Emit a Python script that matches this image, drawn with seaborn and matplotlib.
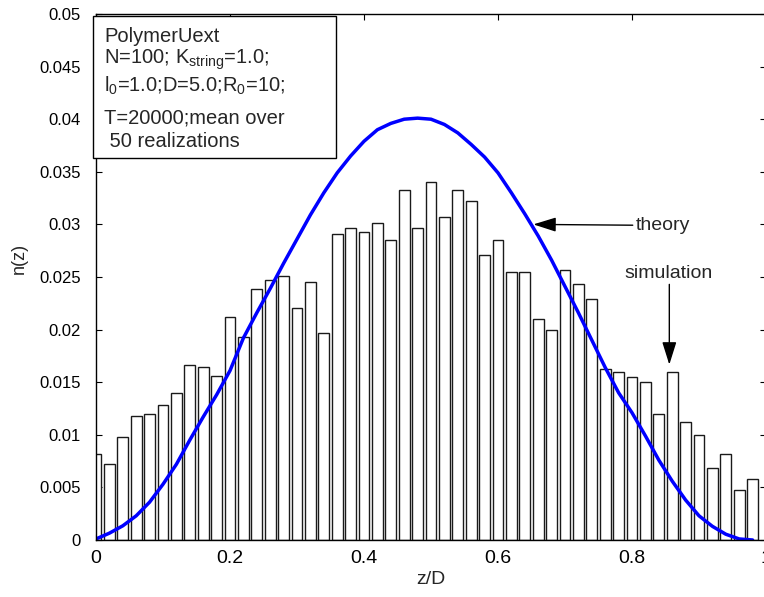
import matplotlib
matplotlib.use("Agg")
import matplotlib.pyplot as plt
import pandas as pd
import seaborn as sns
from matplotlib.patches import Rectangle

# ---------------- data ----------------
z_centers = [0.00, 0.02, 0.04, 0.06, 0.08, 0.10, 0.12, 0.14, 0.16, 0.18,
             0.20, 0.22, 0.24, 0.26, 0.28, 0.30, 0.32, 0.34, 0.36, 0.38,
             0.40, 0.42, 0.44, 0.46, 0.48, 0.50, 0.52, 0.54, 0.56, 0.58,
             0.60, 0.62, 0.64, 0.66, 0.68, 0.70, 0.72, 0.74, 0.76, 0.78,
             0.80, 0.82, 0.84, 0.86, 0.88, 0.90, 0.92, 0.94, 0.96, 0.98]

n_simulation = [0.0082, 0.0072, 0.0098, 0.0118, 0.0120, 0.0128, 0.0140, 0.0166, 0.0164, 0.0156,
                0.0212, 0.0193, 0.0239, 0.0247, 0.0251, 0.0221, 0.0245, 0.0197, 0.0291, 0.0297,
                0.0293, 0.0301, 0.0285, 0.0333, 0.0297, 0.0340, 0.0307, 0.0333, 0.0322, 0.0271,
                0.0285, 0.0255, 0.0255, 0.0210, 0.0200, 0.0257, 0.0243, 0.0229, 0.0163, 0.0160,
                0.0155, 0.0150, 0.0120, 0.0160, 0.0112, 0.0100, 0.0068, 0.0082, 0.0048, 0.0058]

n_theory = [0.0001, 0.00065, 0.00135, 0.0023, 0.0036, 0.0053, 0.0072, 0.0095, 0.0117, 0.0138,
            0.0161, 0.0192, 0.0216, 0.0239, 0.0263, 0.0286, 0.0309, 0.0330, 0.0349, 0.0365,
            0.0379, 0.0390, 0.0396, 0.0400, 0.0401, 0.0400, 0.0395, 0.0387, 0.0376, 0.0364,
            0.0349, 0.0330, 0.0310, 0.0289, 0.0266, 0.0241, 0.0216, 0.0190, 0.0164, 0.0140,
            0.0121, 0.0099, 0.0076, 0.0056, 0.0038, 0.0023, 0.0013, 0.00055, 0.0001, 0.0000]

x_ticks = [0, 0.2, 0.4, 0.6, 0.8, 1.0]
x_tick_labels = ["0", "0.2", "0.4", "0.6", "0.8", "1"]
y_ticks = [0, 0.005, 0.01, 0.015, 0.02, 0.025, 0.03, 0.035, 0.04, 0.045, 0.05]
y_tick_labels = ["0", "0.005", "0.01", "0.015", "0.02", "0.025", "0.03",
                 "0.035", "0.04", "0.045", "0.05"]

info_lines = ["PolymerUext",
              r"N=100; K$_{\mathrm{string}}$=1.0;",
              r"l$_{\mathrm{0}}$=1.0;D=5.0;R$_{\mathrm{0}}$=10;",
              "T=20000;mean over",
              " 50 realizations"]

# ---------------- style ----------------
sns.set_theme(style="white")
plt.rcParams["font.family"] = ["Liberation Sans", "DejaVu Sans"]
plt.rcParams["mathtext.fontset"] = "custom"
plt.rcParams["mathtext.rm"] = "Liberation Sans"
plt.rcParams["mathtext.it"] = "Liberation Sans:italic"
plt.rcParams["mathtext.bf"] = "Liberation Sans:bold"

W, H = 764, 597
fig = plt.figure(figsize=(W / 100, H / 100), dpi=100)
fig.patch.set_facecolor("white")
ax = fig.add_axes([96 / W, 57 / H, 670 / W, 526 / H])
ax.set_facecolor("white")

# ---------------- histogram bars ----------------
edges = [c - 0.01 for c in z_centers] + [z_centers[-1] + 0.01]
df = pd.DataFrame({"z": z_centers, "n": n_simulation})
sns.histplot(data=df, x="z", weights="n", bins=edges, shrink=0.8,
             color="white", edgecolor="#1a1a1a", linewidth=1.0, alpha=1.0,
             ax=ax, legend=False)

# ---------------- theory curve ----------------
sns.lineplot(x=z_centers, y=n_theory, color="#0000ff", linewidth=2.5, ax=ax,
             legend=False)

ax.set_xlim(0, 1)
ax.set_ylim(0, 0.05)
ax.set_xticks(x_ticks)
ax.set_xticklabels(x_tick_labels, fontsize=14)
ax.set_yticks(y_ticks)
ax.set_yticklabels(y_tick_labels, fontsize=12)
ax.tick_params(direction="in", length=4, width=0.8, colors="black",
               top=True, right=True, bottom=True, left=True)
ax.tick_params(axis="x", pad=7)
ax.tick_params(axis="y", pad=11)
for s in ax.spines.values():
    s.set_visible(True)
    s.set_color("black")
    s.set_linewidth(1.0)

ax.set_xlabel("z/D", fontsize=14)
ax.set_ylabel("n(z)", fontsize=13)
ax.xaxis.set_label_coords(0.5, -0.058)
ax.yaxis.set_label_coords(-0.115, 0.535)
ax.yaxis.label.set_va("center")

# ---------------- annotations ----------------
arrow_kw = dict(arrowstyle="-|>,head_length=0.7,head_width=0.22", color="black",
                lw=1.0, shrinkA=0, shrinkB=0, mutation_scale=20)
ax.annotate("theory", xy=(0.6527, 0.0300), xytext=(0.806, 0.0299),
            ha="left", va="center", fontsize=14, arrowprops=arrow_kw)
ax.text(0.7885, 0.0253, "simulation", ha="left", va="center", fontsize=14)
ax.annotate("", xy=(0.8557, 0.01667), xytext=(0.8557, 0.0243),
            arrowprops=arrow_kw)

# ---------------- info box ----------------
box = Rectangle((93 / W, 1 - 158 / H), (336 - 93) / W, (158 - 16) / H,
                transform=fig.transFigure, facecolor="white",
                edgecolor="black", linewidth=1.0, zorder=5)
fig.patches.append(box)
baselines = [41.7, 63.3, 91.7, 123.3, 146.7]
for line, b in zip(info_lines, baselines):
    fig.text(104 / W, 1 - b / H, line, ha="left", va="baseline",
             fontsize=14.5, zorder=6)

fig.savefig("out.png", dpi=100, facecolor="white")
